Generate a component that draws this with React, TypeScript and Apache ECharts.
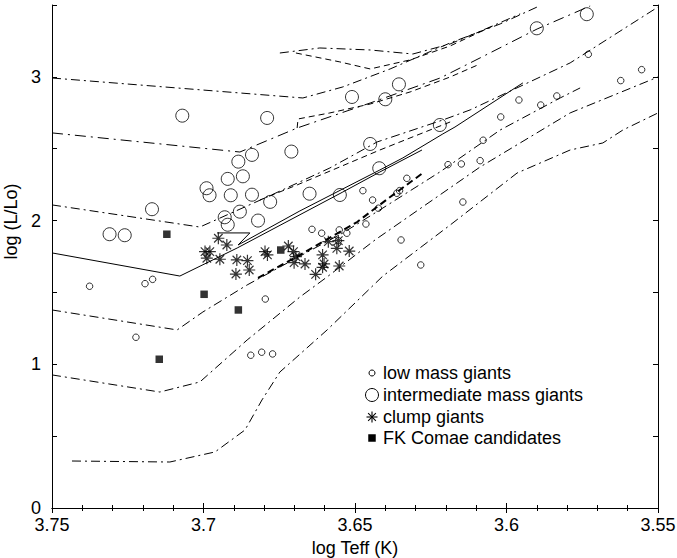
import React, { useEffect, useRef } from "react";
import * as echarts from "echarts";

// ---- data (log Teff, log L/Lo) ----
const lowMassGiants: [number, number][] = [
  [3.6474, 2.208], [3.6442, 2.143], [3.6423, 2.086], [3.6464, 1.976], [3.6642, 1.939],
  [3.661, 1.912], [3.6552, 1.935], [3.6527, 1.912], [3.7168, 1.591], [3.7376, 1.543],
  [3.7193, 1.561], [3.7223, 1.188], [3.6796, 1.454], [3.6844, 1.063], [3.6808, 1.084],
  [3.6772, 1.072], [3.573, 3.157], [3.5554, 3.05], [3.5623, 2.974], [3.5834, 2.867],
  [3.5959, 2.839], [3.5887, 2.804], [3.6019, 2.721], [3.6077, 2.559], [3.6193, 2.389],
  [3.6149, 2.394], [3.6087, 2.417], [3.6329, 2.294], [3.6362, 2.19], [3.6353, 2.208],
  [3.6144, 2.129], [3.6348, 1.865], [3.6283, 1.691], [3.6555, 1.86]
];

const intermediateMassGiants: [number, number][] = [
  [3.707, 2.73], [3.679, 2.714], [3.651, 2.86], [3.645, 2.533], [3.642, 2.364],
  [3.684, 2.457], [3.6885, 2.41], [3.671, 2.48], [3.692, 2.29], [3.687, 2.308],
  [3.699, 2.225], [3.698, 2.176], [3.691, 2.176], [3.684, 2.18], [3.678, 2.13],
  [3.665, 2.187], [3.655, 2.178], [3.688, 2.062], [3.693, 2.023], [3.692, 1.971],
  [3.682, 2.0], [3.717, 2.079], [3.731, 1.905], [3.726, 1.898], [3.5735, 3.436],
  [3.59, 3.338], [3.6355, 2.948], [3.64, 2.844], [3.622, 2.665]
];

const clumpGiants: [number, number][] = [
  [3.6951, 1.877], [3.6923, 1.83], [3.6995, 1.784], [3.6979, 1.784], [3.6989, 1.738],
  [3.6946, 1.731], [3.689, 1.726], [3.6855, 1.721], [3.6893, 1.628], [3.6849, 1.656],
  [3.6797, 1.784], [3.6789, 1.761], [3.672, 1.823], [3.6703, 1.784], [3.6695, 1.749],
  [3.6701, 1.707], [3.6665, 1.698], [3.663, 1.626], [3.6607, 1.761], [3.6602, 1.698],
  [3.6607, 1.675], [3.6588, 1.853], [3.6555, 1.86], [3.656, 1.807], [3.6519, 1.788],
  [3.6552, 1.684]
];

const fkComaeCandidates: [number, number][] = [
  [3.7121, 1.905], [3.6745, 1.795], [3.6998, 1.487], [3.6885, 1.378], [3.7146, 1.035]
];

// evolutionary tracks
const trackA: [number, number][] = [
  [3.75, 2.992], [3.6672, 2.853], [3.654, 2.93], [3.6384, 3.055], [3.6186, 3.236],
  [3.6021, 3.368], [3.5899, 3.486]
];
const loopA: [number, number][] = [
  [3.6748, 3.166], [3.6616, 3.201], [3.645, 3.187], [3.6309, 3.159], [3.6186, 3.229],
  [3.6054, 3.347], [3.5955, 3.438]
];
const loopB: [number, number][] = [
  [3.6695, 3.166], [3.655, 3.104], [3.645, 3.055], [3.6318, 3.118], [3.6186, 3.215],
  [3.6038, 3.361]
];
const trackB: [number, number][] = [
  [3.75, 2.61], [3.688, 2.477], [3.6691, 2.644], [3.645, 2.818], [3.6219, 2.992],
  [3.6087, 3.132], [3.5899, 3.333], [3.5724, 3.493]
];
const loopC: [number, number][] = [
  [3.6691, 2.644], [3.6688, 2.707], [3.6583, 2.749], [3.645, 2.811], [3.6318, 2.895],
  [3.6186, 2.999], [3.6087, 3.09]
];
const trackC: [number, number][] = [
  [3.75, 2.109], [3.7012, 1.955], [3.679, 2.164], [3.6583, 2.366], [3.6427, 2.547],
  [3.621, 2.7], [3.612, 2.77], [3.579, 3.097], [3.55, 3.486]
];
const loopD: [number, number][] = [
  [3.6814, 2.143], [3.6691, 2.248], [3.6418, 2.491], [3.6186, 2.686]
];
const solidA: [number, number][] = [
  [3.75, 1.775], [3.7078, 1.614], [3.6889, 1.809], [3.654, 2.199], [3.6418, 2.338],
  [3.6279, 2.491]
];
const solidB: [number, number][] = [
  [3.6955, 1.914], [3.6847, 1.914], [3.6886, 1.83], [3.6682, 2.067], [3.6418, 2.352],
  [3.6342, 2.436], [3.621, 2.603], [3.617, 2.651], [3.5946, 2.958]
];
const heavyDashed: [number, number][] = [
  [3.682, 1.601], [3.6682, 1.761], [3.6493, 1.99], [3.6384, 2.164], [3.6276, 2.331]
];
const trackD: [number, number][] = [
  [3.75, 1.378], [3.7087, 1.239], [3.7002, 1.364], [3.6856, 1.552], [3.6705, 1.726],
  [3.654, 1.914], [3.6418, 2.074], [3.622, 2.338], [3.6021, 2.63], [3.5823, 2.853],
  [3.5757, 2.923]
];
const trackE: [number, number][] = [
  [3.75, 0.926], [3.7144, 0.807], [3.7012, 0.877], [3.6856, 1.169], [3.6682, 1.468],
  [3.6592, 1.608], [3.6434, 1.865], [3.6087, 2.373], [3.579, 2.749], [3.55, 2.999]
];
const trackF: [number, number][] = [
  [3.7434, 0.327], [3.7111, 0.32], [3.6962, 0.39], [3.6863, 0.543], [3.6807, 0.752],
  [3.6748, 0.946], [3.6592, 1.239], [3.6408, 1.614], [3.6186, 1.969], [3.5965, 2.331],
  [3.579, 2.491], [3.5682, 2.54], [3.5616, 2.63], [3.55, 2.749]
];

const legendLabels = ["low mass giants", "intermediate mass giants", "clump giants", "FK Comae candidates"];
const xTitle = "log Teff (K)";
const yTitle = "log (L/Lo)";

const FONT = '"Liberation Sans", Arial, Helvetica, sans-serif';
const FS = 18;
const DASH_DOT = [9, 4, 2, 4];
const DASHED = [6, 4];

const tracks = [
  { data: trackA, dash: DASH_DOT, width: 1 },
  { data: loopA, dash: DASH_DOT, width: 1 },
  { data: loopB, dash: DASHED, width: 1 },
  { data: trackB, dash: [11, 5, 2, 5], width: 1 },
  { data: loopC, dash: DASHED, width: 1 },
  { data: trackC, dash: DASH_DOT, width: 1 },
  { data: loopD, dash: DASHED, width: 1 },
  { data: solidA, dash: "solid", width: 1 },
  { data: solidB, dash: "solid", width: 1 },
  { data: heavyDashed, dash: [7, 4], width: 2 },
  { data: trackD, dash: DASH_DOT, width: 1 },
  { data: trackE, dash: DASH_DOT, width: 1 },
  { data: trackF, dash: DASH_DOT, width: 1 }
];

const ASTERISK = "path://M5 0L5 10M0 5L10 5M1.46 1.46L8.54 8.54M1.46 8.54L8.54 1.46";

export default function App() {
  const ref = useRef<HTMLDivElement>(null);
  useEffect(() => {
    document.body.style.margin = "0";
    const chart = echarts.init(ref.current!, null, { renderer: "svg" });
    const axisCommon = {
      axisLine: { show: true, lineStyle: { color: "#000", width: 1 } },
      splitLine: { show: false },
    };
    const xCommon = {
      type: "value" as const,
      min: 3.55,
      max: 3.75,
      interval: 0.05,
      inverse: true,
      ...axisCommon,
      axisTick: { show: true, inside: true, length: 5, lineStyle: { color: "#000" } },
      minorTick: { show: true, splitNumber: 5, length: 3, lineStyle: { color: "#000" } },
    };
    const yCommon = {
      type: "value" as const,
      min: 0,
      max: 3.5,
      interval: 0.5,
      ...axisCommon,
      axisTick: { show: true, inside: true, length: 5, lineStyle: { color: "#000" } },
    };
    const lx = 372;
    const rows = [373, 395, 417, 438];
    const astR = 5.5;
    const astLines = [0, 45, 90, 135].map((deg) => {
      const a = (deg * Math.PI) / 180;
      return {
        type: "line",
        shape: {
          x1: lx - astR * Math.cos(a), y1: rows[2] - astR * Math.sin(a),
          x2: lx + astR * Math.cos(a), y2: rows[2] + astR * Math.sin(a),
        },
        style: { stroke: "#000", lineWidth: 1.1 },
      };
    });
    chart.setOption({
      animation: false,
      backgroundColor: "#fff",
      textStyle: { fontFamily: FONT, color: "#000" },
      grid: { left: 52, right: 19, top: 5, bottom: 50, containLabel: false, outerBoundsMode: "none" },
      xAxis: [
        {
          ...xCommon,
          position: "bottom",
          name: xTitle,
          nameLocation: "middle",
          nameGap: 27,
          nameTextStyle: { fontSize: FS, color: "#000", fontFamily: FONT },
          axisLabel: {
            show: true, margin: 10, fontSize: FS, lineHeight: 14, color: "#000", fontFamily: FONT,
            showMinLabel: true, showMaxLabel: true,
            formatter: (v: number) => String(Math.round(v * 100) / 100),
          },
        },
        { ...xCommon, position: "top", axisLabel: { show: false } },
      ],
      yAxis: [
        {
          ...yCommon,
          position: "left",
          name: yTitle,
          nameLocation: "middle",
          nameGap: 27,
          nameTextStyle: { fontSize: FS, color: "#000", fontFamily: FONT, padding: [0, 0, 0, 70] },
          axisLabel: {
            show: true, margin: 11, fontSize: FS, lineHeight: 13, color: "#000", fontFamily: FONT,
            padding: [0, 0, 6, 0],
            formatter: (v: number) => (Math.abs(v - Math.round(v)) < 1e-6 ? String(Math.round(v)) : ""),
          },
        },
        { ...yCommon, position: "right", axisLabel: { show: false } },
      ],
      series: [
        ...tracks.map((t, i) => ({
          type: "line",
          name: "track" + i,
          data: t.data,
          symbol: "none",
          showSymbol: false,
          smooth: false,
          z: 1,
          lineStyle: { color: "#000", width: t.width, type: t.dash },
        })),
        {
          type: "scatter", name: legendLabels[0], data: lowMassGiants, z: 3,
          symbol: "circle", symbolSize: 6.5,
          itemStyle: { color: "rgba(0,0,0,0)", borderColor: "#000", borderWidth: 1 },
        },
        {
          type: "scatter", name: legendLabels[1], data: intermediateMassGiants, z: 3,
          symbol: "circle", symbolSize: 13,
          itemStyle: { color: "rgba(0,0,0,0)", borderColor: "#000", borderWidth: 1 },
        },
        {
          type: "scatter", name: legendLabels[2], data: clumpGiants, z: 4,
          symbol: ASTERISK, symbolSize: 12,
          itemStyle: { color: "rgba(0,0,0,0)", borderColor: "#000", borderWidth: 1.2 },
        },
        {
          type: "scatter", name: legendLabels[3], data: fkComaeCandidates, z: 4,
          symbol: "rect", symbolSize: 7.5,
          itemStyle: { color: "#000", borderWidth: 0 },
        },
      ],
      graphic: [
        { type: "circle", shape: { cx: lx, cy: rows[0], r: 3 }, style: { fill: "none", stroke: "#000", lineWidth: 1 } },
        { type: "circle", shape: { cx: lx, cy: rows[1], r: 6.5 }, style: { fill: "none", stroke: "#000", lineWidth: 1 } },
        ...astLines,
        { type: "rect", shape: { x: lx - 3.75, y: rows[3] - 3.75, width: 7.5, height: 7.5 }, style: { fill: "#000" } },
        ...legendLabels.map((txt, i) => ({
          type: "text",
          x: 383,
          y: rows[i],
          style: { text: txt, fill: "#000", fontSize: FS, fontFamily: FONT, verticalAlign: "middle", align: "left" },
        })),
      ],
    });
    return () => chart.dispose();
  }, []);
  return <div ref={ref} style={{ position: "fixed", left: 0, top: 0, width: 677, height: 558 }} />;
}
